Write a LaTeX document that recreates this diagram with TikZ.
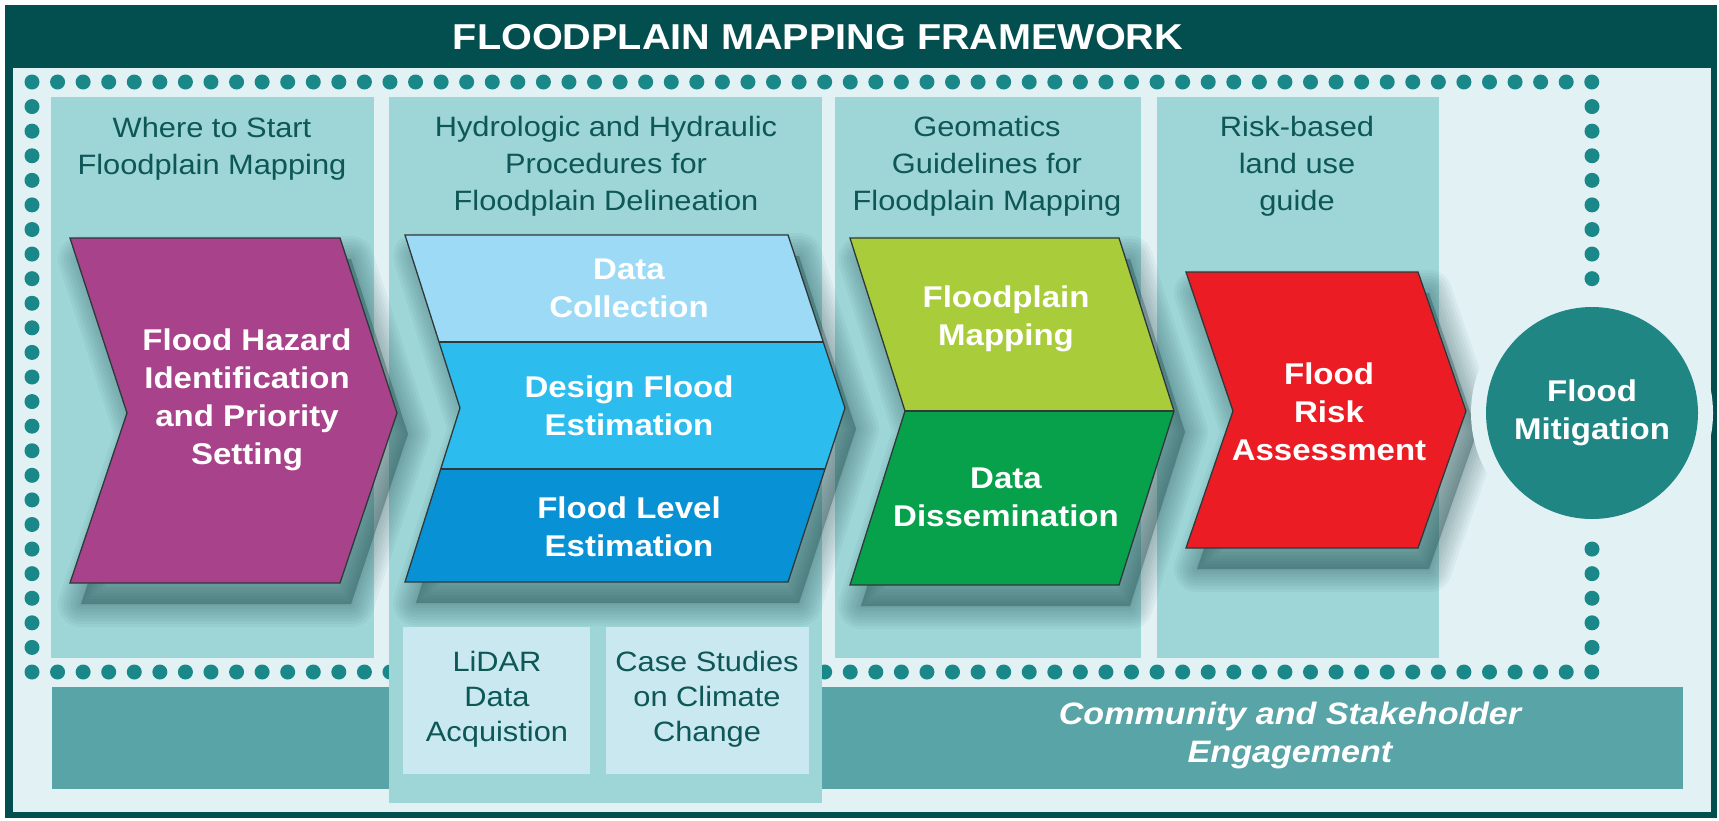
\documentclass[tikz,border=0pt]{standalone}
\usepackage{fontspec}
\setmainfont{Liberation Sans}[FakeStretch=1.1]
\definecolor{frame}{HTML}{034F4F}
\definecolor{bg}{HTML}{E1F1F4}
\definecolor{panel}{HTML}{9ED5D7}
\definecolor{dotcol}{HTML}{1A8888}
\definecolor{hdrcol}{HTML}{0D5757}
\definecolor{mag}{HTML}{A8428A}
\definecolor{blueA}{HTML}{9CDAF6}
\definecolor{blueB}{HTML}{2CBDEE}
\definecolor{blueC}{HTML}{0891D5}
\definecolor{lime}{HTML}{A9CC3B}
\definecolor{grn}{HTML}{07A04B}
\definecolor{redc}{HTML}{EC1C24}
\definecolor{circcol}{HTML}{1F8684}
\definecolor{barcol}{HTML}{58A4A7}
\definecolor{boxcol}{HTML}{C9E8EF}
\definecolor{outcol}{HTML}{2E3A3A}
\definecolor{shcol}{HTML}{0E3A3C}
\newcommand\softshadow[1]{%
  \begin{scope}[shift={(11,21)}]
  \foreach \w in {46,40,34,28,22,16,10,4} {
    \path[fill=shcol, fill opacity=0.045, draw=shcol, draw opacity=0.045, line width=\w pt, line join=round] #1;
  }
  \end{scope}}
\begin{document}
\begin{tikzpicture}[x=1pt,y=-1pt,
  hdr/.style={text=hdrcol, align=center, font=\fontsize{28}{37}\selectfont, inner sep=0pt},
  sub/.style={text=hdrcol, align=center, font=\fontsize{28}{35}\selectfont, inner sep=0pt},
  wtxt/.style={text=white, align=center, font=\bfseries\fontsize{30}{38}\selectfont, inner sep=0pt},
  outl/.style={draw=outcol, line width=1.3pt, line join=miter}]
\useasboundingbox (0,0) rectangle (1719,820);
\fill[white] (0,0) rectangle (1719,820);
% frame
\fill[frame] (5,5) rectangle (1717,818);
\fill[bg] (13,68) rectangle (1711,812);
\node[text=white, font=\bfseries\fontsize{36}{40}\selectfont, inner sep=0pt] (title) at (818,37) {FLOODPLAIN MAPPING FRAMEWORK};
% dotted frame
\foreach \i in {0,...,61} {
  \fill[dotcol] ({32+\i*25.57},82) circle (7.5pt);
  \fill[dotcol] ({32+\i*25.57},672) circle (7.5pt);
}
\foreach \j in {1,...,23} {
  \fill[dotcol] (32,{82+\j*24.583}) circle (7.5pt);
  \fill[dotcol] (1592,{82+\j*24.583}) circle (7.5pt);
}
% bottom bar
\fill[barcol] (52,687) rectangle (1683,789);
\node[text=white, align=center, font=\bfseries\itshape\fontsize{31}{38}\selectfont, inner sep=0pt] (comm) at (1290,735) {Community and Stakeholder\\Engagement};
% panels
\fill[panel] (51,97) rectangle (374,658);
\fill[panel] (389,97) rectangle (822,803);
\fill[panel] (835,97) rectangle (1141,658);
\fill[panel] (1157,97) rectangle (1439,658);
\fill[boxcol] (403,627) rectangle (590,774);
\fill[boxcol] (606,627) rectangle (809,774);
\node[sub] (lidar) at (497,699) {LiDAR\\Data\\Acquistion};
\node[sub] (case) at (707,699) {Case Studies\\on Climate\\Change};
% headers
\node[hdr] (h1) at (212,149) {Where to Start\\Floodplain Mapping};
\node[hdr] (h2) at (606,166) {Hydrologic and Hydraulic\\Procedures for\\Floodplain Delineation};
\node[hdr] (h3) at (987,166) {Geomatics\\Guidelines for\\Floodplain Mapping};
\node[hdr] (h4) at (1297,166) {Risk-based\\land use\\guide};
% shadows
\softshadow{(70,238) -- (340,238) -- (397,413) -- (340,583) -- (70,583) -- (127,413) -- cycle}
\softshadow{(405,235) -- (788,235) -- (845,408) -- (788,582) -- (405,582) -- (460,408) -- cycle}
\softshadow{(850,238) -- (1119,238) -- (1174,411) -- (1119,585) -- (850,585) -- (905,411) -- cycle}
\softshadow{(1186,272) -- (1418,272) -- (1466,411) -- (1418,548) -- (1186,548) -- (1233,411) -- cycle}
% magenta chevron
\path[fill=mag, outl] (70,238) -- (340,238) -- (397,413) -- (340,583) -- (70,583) -- (127,413) -- cycle;
\node[wtxt] (haz) at (247,400) {Flood Hazard\\Identification\\and Priority\\Setting};
% blue chevron
\path[fill=blueB] (405,235) -- (788,235) -- (845,408) -- (788,582) -- (405,582) -- (460,408) -- cycle;
\begin{scope}
\clip (405,235) -- (788,235) -- (845,408) -- (788,582) -- (405,582) -- (460,408) -- cycle;
\fill[blueA] (400,230) rectangle (860,342);
\fill[blueC] (400,469) rectangle (860,590);
\draw[outl] (400,342) -- (860,342) (400,469) -- (860,469);
\end{scope}
\draw[outl] (405,235) -- (788,235) -- (845,408) -- (788,582) -- (405,582) -- (460,408) -- cycle;
\node[wtxt] (dc) at (629,288) {Data\\Collection};
\node[wtxt] (dfe) at (629,406) {Design Flood\\Estimation};
\node[wtxt] (fle) at (629,527) {Flood Level\\Estimation};
% green chevron
\path[fill=grn] (850,238) -- (1119,238) -- (1174,411) -- (1119,585) -- (850,585) -- (905,411) -- cycle;
\begin{scope}
\clip (850,238) -- (1119,238) -- (1174,411) -- (1119,585) -- (850,585) -- (905,411) -- cycle;
\fill[lime] (840,230) rectangle (1190,411);
\draw[outl] (840,411) -- (1190,411);
\end{scope}
\draw[outl] (850,238) -- (1119,238) -- (1174,411) -- (1119,585) -- (850,585) -- (905,411) -- cycle;
\node[wtxt] (fpm) at (1006,319) {Floodplain\\Mapping};
\node[wtxt] (dd) at (1006,497) {Data\\Dissemination};
% red chevron
\path[fill=redc, outl] (1186,272) -- (1418,272) -- (1466,411) -- (1418,548) -- (1186,548) -- (1233,411) -- cycle;
\node[wtxt] (fra) at (1329,412) {Flood\\Risk\\Assessment};
% circle
\fill[bg] (1592,413) circle (121pt);
\node[circle, fill=circcol, minimum size=212pt, inner sep=0pt, wtxt] (mit) at (1592,413) {Flood\\Mitigation};
\end{tikzpicture}
\end{document}
